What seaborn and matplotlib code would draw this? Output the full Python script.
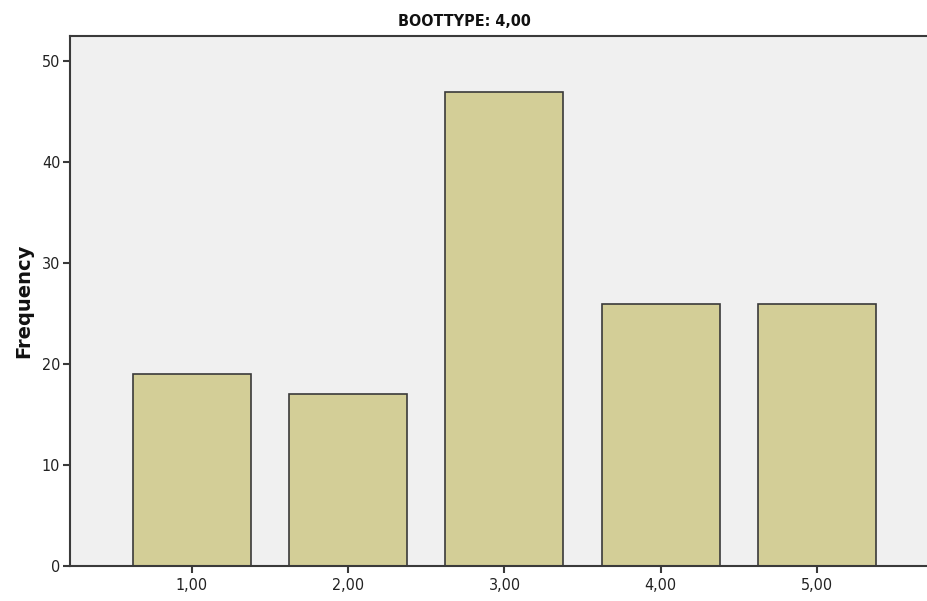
import pandas as pd
import matplotlib
matplotlib.use("Agg")
import matplotlib.pyplot as plt
import seaborn as sns

# Werte
categories = ["1,00", "2,00", "3,00", "4,00", "5,00"]
frequency = [19, 17, 47, 26, 26]
title = "BOOTTYPE: 4,00"

df = pd.DataFrame({"cat": categories, "freq": frequency})

sns.set_style("white")
plt.rcParams["font.family"] = ["DejaVu Sans"]

fig = plt.figure(figsize=(9.28, 6.01), dpi=100)
ax = fig.add_axes([70 / 928, 1 - 566 / 601, 858 / 928, 530 / 601])
ax.set_facecolor("#F0F0F0")

sns.barplot(data=df, x="cat", y="freq", color="#D3CE97", saturation=1,
            width=0.755, edgecolor="#3A3A3A", linewidth=1.2, ax=ax)

ax.set_xlim(-0.78, 4.71)
ax.set_ylim(0, 52.5)
ax.set_yticks([0, 10, 20, 30, 40, 50])
ax.set_xlabel("")
ax.set_ylabel("Frequency", fontsize=14, fontweight="bold", color="#111111", labelpad=6)
fig.text(0.5, 1 - 22 / 601, title, ha="center", va="center", fontsize=11.5,
         fontweight="bold", fontstretch="condensed", color="#111111")

for s in ["left", "bottom", "top"]:
    ax.spines[s].set_color("#3A3A3A")
    ax.spines[s].set_linewidth(1.5)
ax.spines["right"].set_visible(False)
ax.tick_params(axis="both", bottom=True, left=True, direction="out", length=5,
               width=1.5, color="#3A3A3A", labelsize=11.5, labelcolor="#222222", pad=2)
ax.tick_params(axis="x", pad=4)
for lab in ax.get_xticklabels() + ax.get_yticklabels():
    lab.set_fontstretch("condensed")

plt.savefig("out.png", dpi=100)
